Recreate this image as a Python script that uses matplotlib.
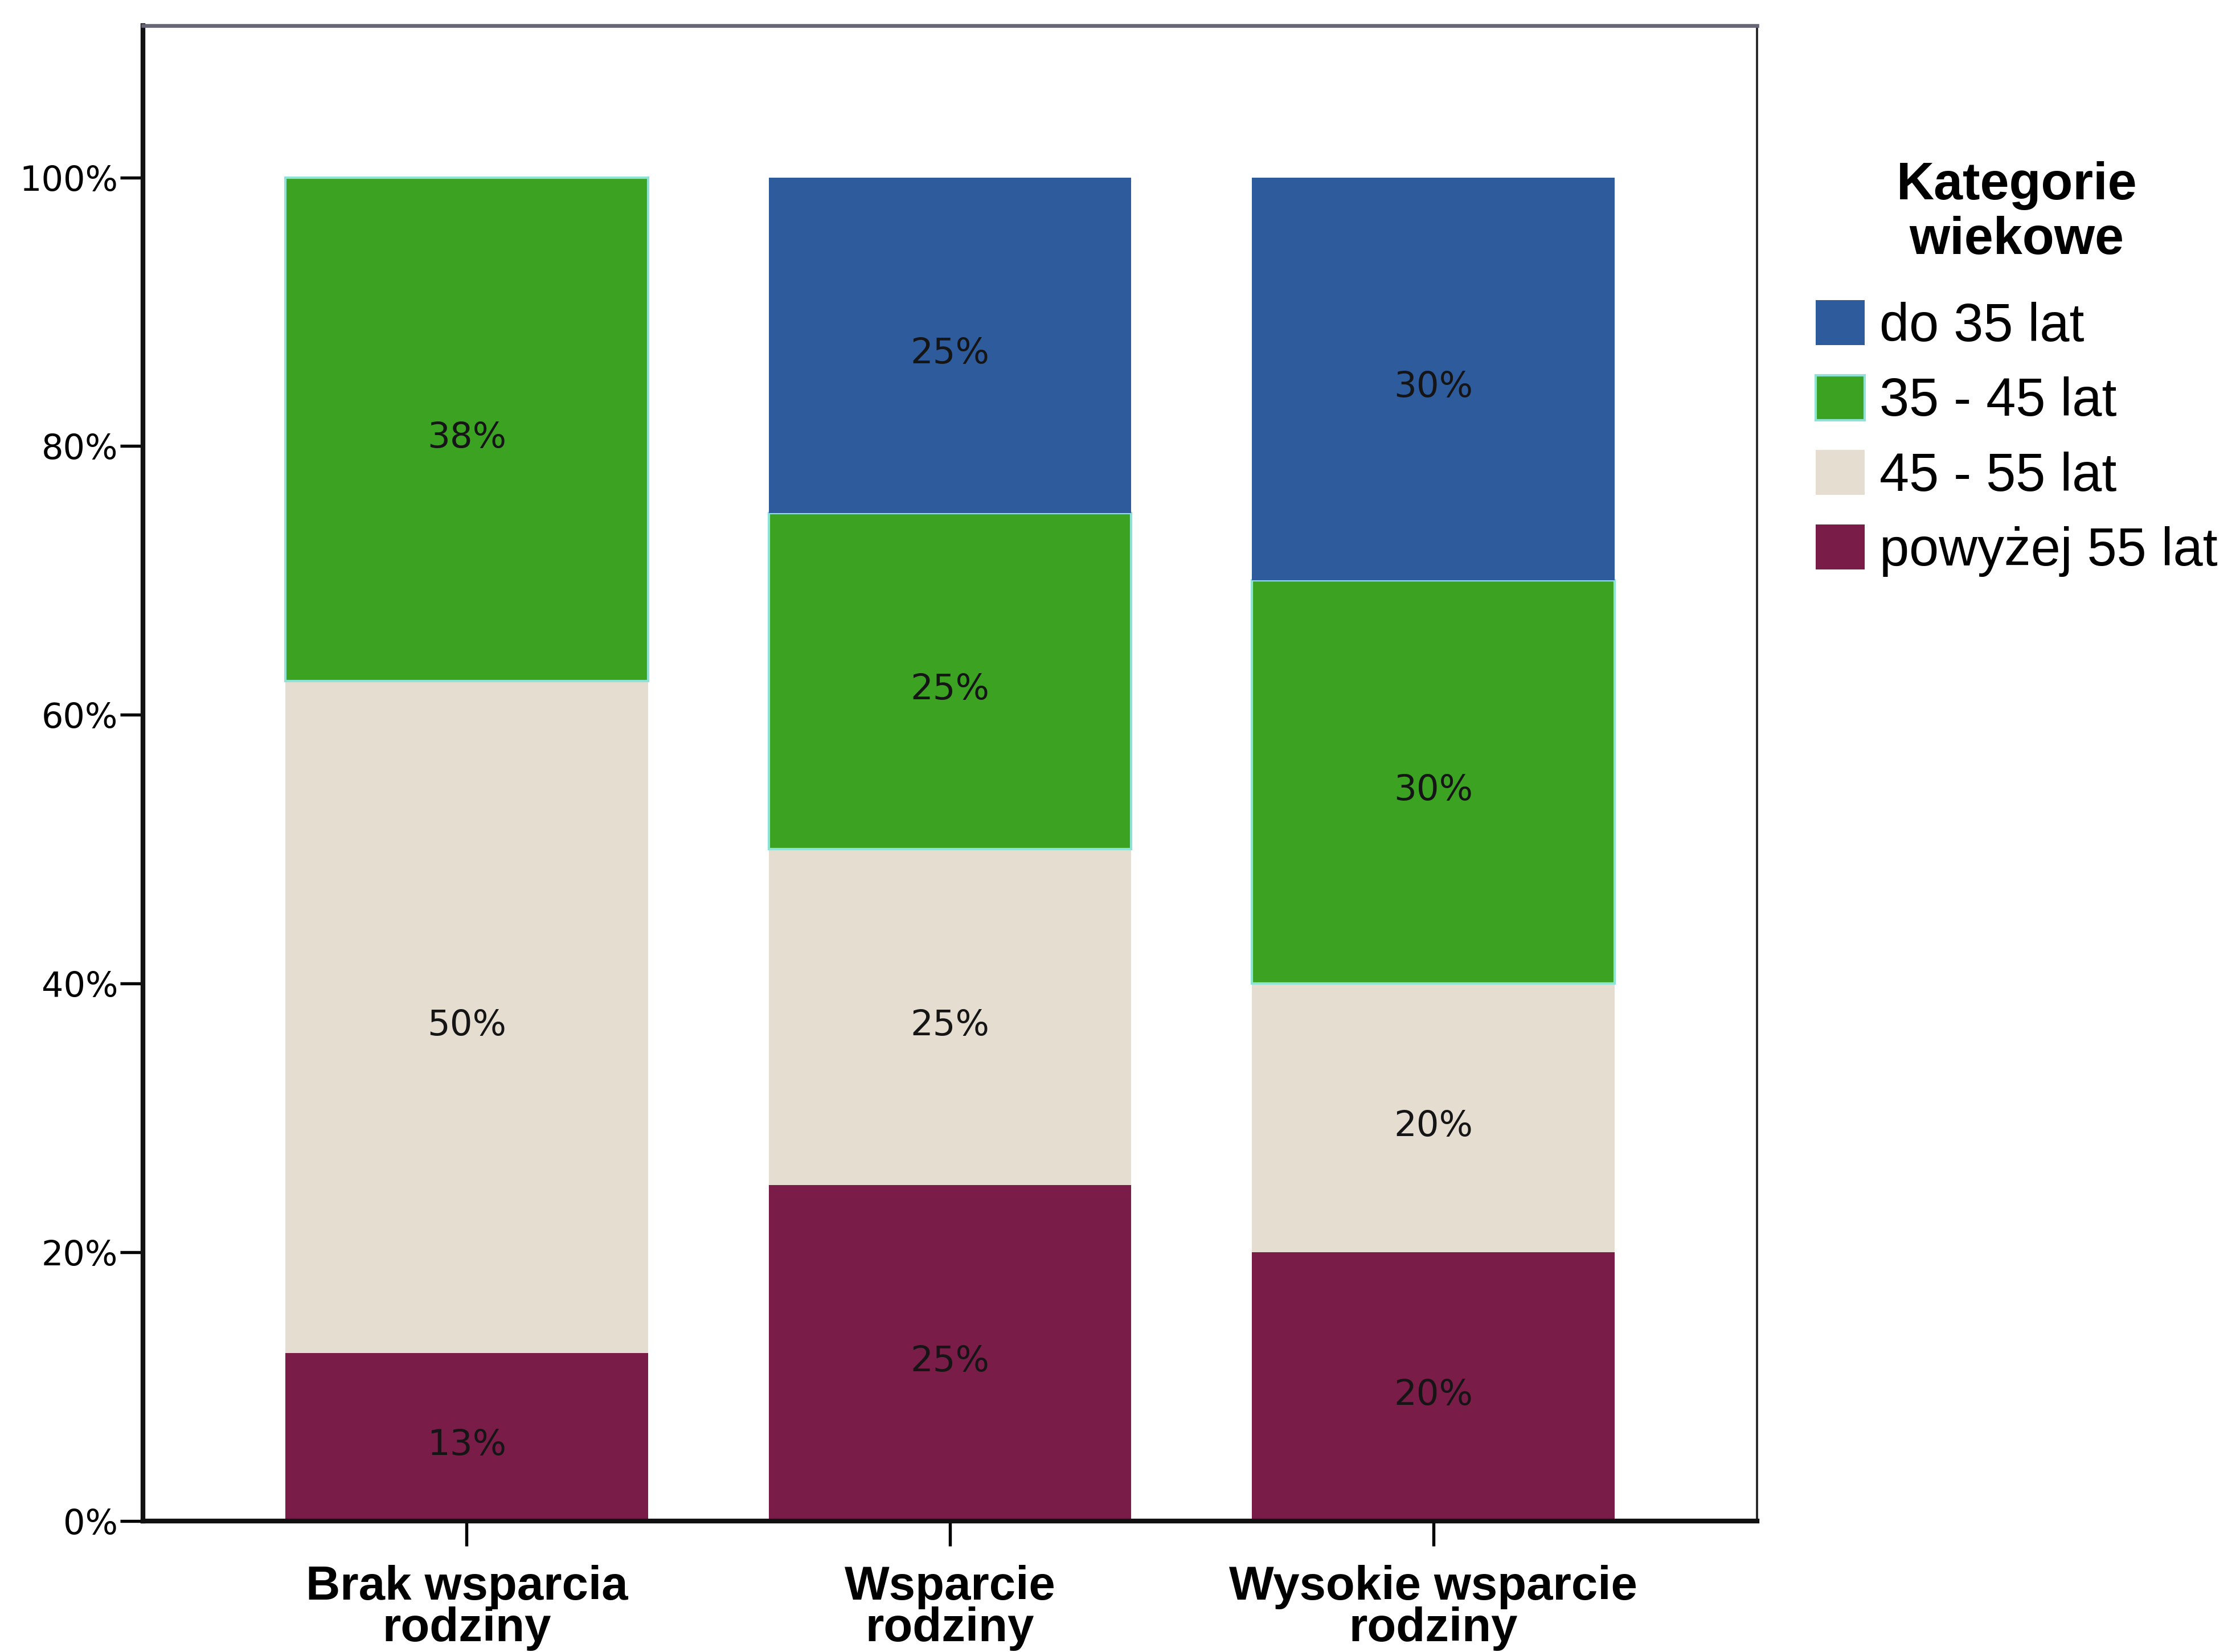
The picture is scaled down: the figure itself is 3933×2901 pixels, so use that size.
import matplotlib
matplotlib.use("Agg")
import matplotlib.pyplot as plt
from matplotlib import font_manager
import numpy as np

plt.rcParams['font.family'] = ['Liberation Sans', 'DejaVu Sans']

# support level groups on the x axis
groups = ["Brak wsparcia\nrodziny", "Wsparcie\nrodziny", "Wysokie wsparcie\nrodziny"]

# age categories, stacked from the bottom up
categories = ["powyżej 55 lat", "45 - 55 lat", "35 - 45 lat", "do 35 lat"]
share_55plus = [12.5, 25.0, 20.0]
share_45_55 = [50.0, 25.0, 20.0]
share_35_45 = [37.5, 25.0, 30.0]
share_do35 = [0.0, 25.0, 30.0]

colors = ["#7a1c48", "#e4ddd0", "#3ca222", "#2d5b9c"]
series = [share_55plus, share_45_55, share_35_45, share_do35]

# condensed bold face for the group names, if there is one
installed = {f.name for f in font_manager.fontManager.ttflist}
if "Liberation Sans Narrow" in installed:
    group_font = dict(family="Liberation Sans Narrow", fontsize=24.5)
else:
    group_font = dict(family="Liberation Sans", fontsize=20)

fig = plt.figure(figsize=(13.11, 9.67), dpi=300)
ax = fig.add_axes([0.0638, 0.0793, 0.7206, 0.9052])

x = np.arange(len(groups))
bottom = np.zeros(len(groups))
handles = []
for vals, c, name in zip(series, colors, categories):
    vals = np.array(vals)
    if name == "35 - 45 lat":
        bars = ax.bar(x, vals, width=0.75, bottom=bottom, color=c,
                      edgecolor="#8fe3d6", linewidth=1.0, label=name)
    else:
        bars = ax.bar(x, vals, width=0.75, bottom=bottom, color=c,
                      linewidth=0, label=name)
    handles.append(bars)
    for xi, b, v in zip(x, bottom, vals):
        if v > 0:
            ax.annotate("%d%%" % int(v + 0.5), (xi, b + v / 2), xytext=(0, -3.5),
                        textcoords="offset points", ha="center", va="center",
                        fontsize=15, family="DejaVu Sans", color="#151515")
    bottom += vals

ax.set_xlim(-0.67, 2.67)
ax.set_ylim(0, 111.3)
ax.set_yticks([0, 20, 40, 60, 80, 100])
ax.set_yticklabels(["0%", "20%", "40%", "60%", "80%", "100%"], fontsize=14.5,
                   family="DejaVu Sans")
ax.set_xticks(x)
ax.set_xticklabels(groups, fontweight="bold", linespacing=0.92, **group_font)
ax.tick_params(axis="y", length=9.5, width=1.3, pad=1, direction="out")
ax.tick_params(axis="x", length=10.5, width=1.3, pad=8, direction="out")

for side in ["left", "bottom"]:
    ax.spines[side].set_linewidth(2.0)
    ax.spines[side].set_color("#111111")
ax.spines["top"].set_linewidth(1.6)
ax.spines["top"].set_color("#666677")
ax.spines["right"].set_linewidth(0.9)
ax.spines["right"].set_color("#222222")

# legend order: youngest first
leg = ax.legend(handles[::-1], categories[::-1], title="Kategorie\nwiekowe",
                loc="upper left", bbox_to_anchor=(0.8105, 0.9025),
                bbox_transform=fig.transFigure, frameon=False,
                fontsize=22.5, title_fontproperties={"size": 22, "weight": "bold"},
                handlelength=0.92, handleheight=0.92, handletextpad=0.28,
                labelspacing=0.42, borderpad=0, borderaxespad=0)
leg.get_title().set_multialignment("center")
leg.get_title().set_linespacing(1.15)
leg._legend_box.align = "center"
leg._legend_box.sep = 15

plt.savefig("out.png", dpi=300)
plt.close()
